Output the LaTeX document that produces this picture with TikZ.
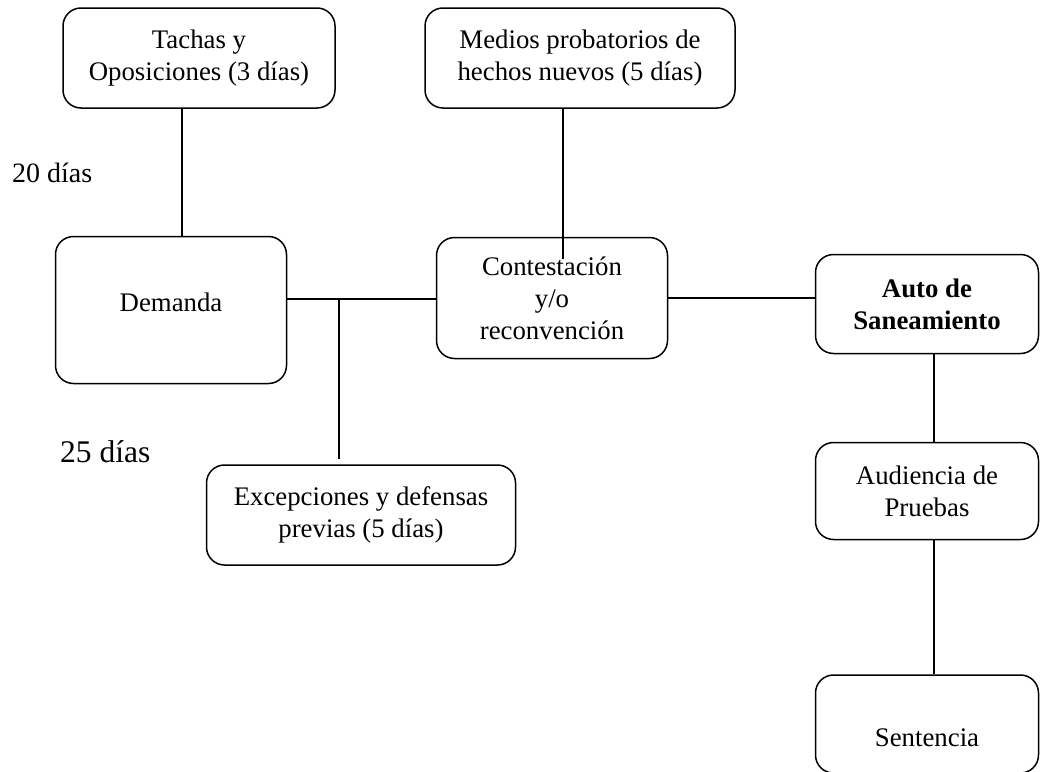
\documentclass[tikz,border=0pt]{standalone}
\usepackage{fontspec}
\setmainfont{Liberation Serif}
\usepackage{tikz}
\usetikzlibrary{positioning}

\begin{document}
\begin{tikzpicture}[x=1pt,y=-1pt,
  box/.style={draw,rounded corners=18pt,align=center,line width=1.5pt,inner sep=0pt,
    font=\fontsize{26.8}{32}\selectfont},
  link/.style={line width=1.5pt},
  tag/.style={anchor=base west,inner sep=0pt}
]
  \useasboundingbox (0,0) rectangle (1041,771);
  \clip (0,0) rectangle (1041,771);
  \node[box,minimum width=272pt,minimum height=100pt] (tachas) at (199,58) {Tachas y\\Oposiciones (3 días)};
  \node[box,minimum width=310pt,minimum height=100pt] (medios) at (580,58) {Medios probatorios de\\hechos nuevos (5 días)};
  \node[box,minimum width=231pt,minimum height=147pt,text depth=16pt] (demanda) at (171,310) {Demanda};
  \node[box,minimum width=231pt,minimum height=121pt] (contest) at (552,298) {Contestación\\y/o\\reconvención};
  \node[box,minimum width=223pt,minimum height=99pt] (saneam) at (927,304) {\textbf{Auto de}\\\textbf{Saneamiento}};
  \node[box,minimum width=223pt,minimum height=97pt] (audiencia) at (927,491) {Audiencia de\\Pruebas};
  \node[box,minimum width=223pt,minimum height=98pt] (sentencia) at (927,724) {\mbox{}\\[14pt]Sentencia};
  \node[box,minimum width=309pt,minimum height=100pt] (excep) at (361,515) {Excepciones y defensas\\previas (5 días)};
  \node[tag,font=\fontsize{28}{32}\selectfont] (dias20) at (12,182) {20 días};
  \node[tag,font=\fontsize{31.5}{36}\selectfont] (dias25) at (60,462) {25 días};
  \coordinate (tj) at (182,0);
  \coordinate (mj) at (563,259);
  \coordinate (hj) at (339,299);
  \coordinate (ej) at (339,459);
  \coordinate (vj) at (934,0);
  \draw[link] (tachas.south -| tj) -- (demanda.north -| tj);
  \draw[link] (medios.south -| mj) -- (mj);
  \draw[link] (demanda.east |- hj) -- (contest.west |- hj);
  \draw[link] (hj) -- (ej);
  \draw[link] (contest.east) -- (saneam.west |- contest.east);
  \draw[link] (saneam.south -| vj) -- (audiencia.north -| vj);
  \draw[link] (audiencia.south -| vj) -- (sentencia.north -| vj);
\end{tikzpicture}
\end{document}
